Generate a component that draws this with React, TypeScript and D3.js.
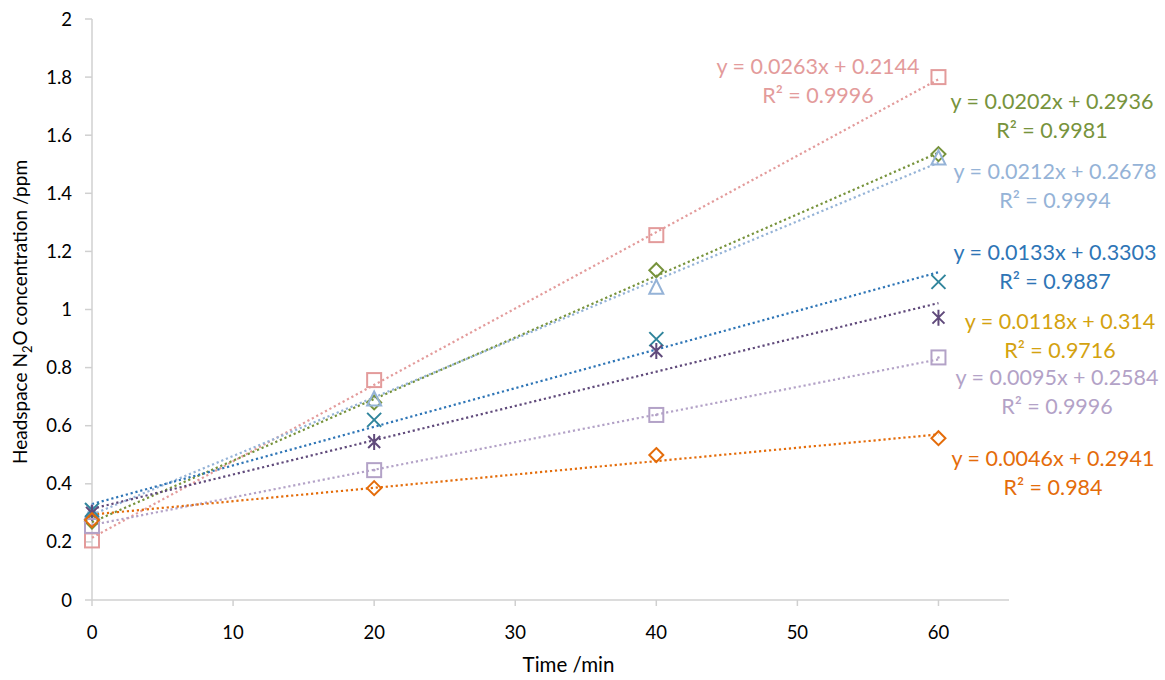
import React, { useEffect } from "react"
import * as d3 from "d3"

// sampling times (min)
const times = [0, 20, 40, 60]

// measured headspace N2O (ppm), one array per treatment
const pinkSquare = [0.205, 0.757, 1.256, 1.8]
const greenDiamond = [0.27, 0.68, 1.135, 1.535]
const blueTriangle = [0.3, 0.69, 1.075, 1.52]
const tealCross = [0.31, 0.62, 0.898, 1.095]
const purpleStar = [0.3, 0.544, 0.857, 0.972]
const lilacSquare = [0.255, 0.447, 0.637, 0.835]
const orangeDiamond = [0.275, 0.385, 0.499, 0.557]

// linear trendlines as printed on the chart
const slopes = [0.0263, 0.0202, 0.0212, 0.0133, 0.0118, 0.0095, 0.0046]
const intercepts = [0.2144, 0.2936, 0.2678, 0.3303, 0.314, 0.2584, 0.2941]
const eqLabels = [
  "y = 0.0263x + 0.2144",
  "y = 0.0202x + 0.2936",
  "y = 0.0212x + 0.2678",
  "y = 0.0133x + 0.3303",
  "y = 0.0118x + 0.314",
  "y = 0.0095x + 0.2584",
  "y = 0.0046x + 0.2941",
]
const r2Labels = ["0.9996", "0.9981", "0.9994", "0.9887", "0.9716", "0.9996", "0.984"]
// which printed fit belongs to which series (the green / blue labels are swapped on the original)
const fitOfSeries = [0, 2, 1, 3, 4, 5, 6]

const xTicks = [0, 10, 20, 30, 40, 50, 60]
const yTicks = [0, 0.2, 0.4, 0.6, 0.8, 1, 1.2, 1.4, 1.6, 1.8, 2]

const seriesValues = [pinkSquare, greenDiamond, blueTriangle, tealCross, purpleStar, lilacSquare, orangeDiamond]
const markerKinds = ["square", "diamond", "triangle", "cross", "star", "dotsquare", "diamond"]
const markerColors = ["#E39B9B", "#77933C", "#95B3D7", "#31859C", "#604A7B", "#B3A2C7", "#E46C0A"]
const lineColors = ["#E39B9B", "#77933C", "#95B3D7", "#2E75B6", "#604A7B", "#B3A2C7", "#E46C0A"]
const labelColors = ["#E39B9B", "#77933C", "#95B3D7", "#2E75B6", "#D4A20F", "#B3A2C7", "#E46C0A"]
// label centre (px) for each equation block
const labelAt = [
  [818, 66],
  [1052, 101],
  [1055, 171],
  [1055, 252],
  [1060, 321],
  [1057, 377],
  [1053, 458],
]

const W = 1165
const H = 680
const font = "Lato, 'Open Sans', sans-serif"

function Marker({ kind, x, y, color }) {
  const s = 7
  const common = { fill: "none", stroke: color, strokeWidth: 2 }
  if (kind === "square")
    return <rect x={x - s} y={y - s} width={2 * s} height={2 * s} {...common} />
  if (kind === "dotsquare")
    return (
      <g>
        <rect x={x - s} y={y - s} width={2 * s} height={2 * s} {...common} />
        <circle cx={x} cy={y} r={1.3} fill={color} />
      </g>
    )
  if (kind === "diamond")
    return <path d={`M${x},${y - s}L${x + s},${y}L${x},${y + s}L${x - s},${y}Z`} {...common} />
  if (kind === "triangle")
    return <path d={`M${x},${y - s - 1}L${x + s},${y + s - 1}L${x - s},${y + s - 1}Z`} {...common} />
  if (kind === "cross")
    return (
      <path d={`M${x - s},${y - s}L${x + s},${y + s}M${x - s},${y + s}L${x + s},${y - s}`} {...common} />
    )
  return (
    <path
      d={`M${x - 6},${y - 6}L${x + 6},${y + 6}M${x - 6},${y + 6}L${x + 6},${y - 6}M${x},${y - 8}L${x},${y + 8}`}
      {...common}
    />
  )
}

export default function App() {
  useEffect(() => {
    document.body.style.margin = "0"
  }, [])

  const x = d3.scaleLinear().domain([0, 65]).range([92, 1009])
  const y = d3.scaleLinear().domain([0, 2]).range([600, 19])
  const axisColor = "#D0D0D0"
  const tStart = times[0]
  const tEnd = times[times.length - 1]

  return (
    <svg width={W} height={H} style={{ display: "block", background: "#fff" }} fontFamily={font}>
      {/* axes */}
      <line x1={x(0)} x2={x(65)} y1={y(0)} y2={y(0)} stroke={axisColor} strokeWidth={1.5} />
      <line x1={x(0)} x2={x(0)} y1={y(0)} y2={y(2)} stroke={axisColor} strokeWidth={1.5} />
      {xTicks.map(t => (
        <g key={"xt" + t}>
          <line x1={x(t)} x2={x(t)} y1={y(0)} y2={y(0) + 6} stroke={axisColor} strokeWidth={1.5} />
          <text x={x(t)} y={y(0) + 39} textAnchor="middle" fontSize={18.5} fill="#000">
            {t}
          </text>
        </g>
      ))}
      {yTicks.map(t => (
        <g key={"yt" + t}>
          <line x1={x(0) - 7} x2={x(0)} y1={y(t)} y2={y(t)} stroke={axisColor} strokeWidth={1.5} />
          <text x={x(0) - 20} y={y(t) + 6.5} textAnchor="end" fontSize={18.5} fill="#000">
            {d3.format("~g")(t)}
          </text>
        </g>
      ))}

      {/* trendlines */}
      {seriesValues.map((_, i) => {
        const f = fitOfSeries[i]
        return (
          <line
            key={"tl" + i}
            x1={x(tStart)}
            y1={y(intercepts[f] + slopes[f] * tStart)}
            x2={x(tEnd)}
            y2={y(intercepts[f] + slopes[f] * tEnd)}
            stroke={lineColors[i]}
            strokeWidth={2.2}
            strokeDasharray="2.2 2.8"
          />
        )
      })}

      {/* markers */}
      {seriesValues.map((vals, i) =>
        vals.map((v, j) => (
          <Marker key={`m${i}-${j}`} kind={markerKinds[i]} x={x(times[j])} y={y(v)} color={markerColors[i]} />
        ))
      )}

      {/* equation labels */}
      {eqLabels.map((eq, i) => (
        <g key={"lb" + i} fill={labelColors[i]} fontSize={21.5} textAnchor="middle">
          <text x={labelAt[i][0]} y={labelAt[i][1] + 7.5}>
            {eq}
          </text>
          <text x={labelAt[i][0]} y={labelAt[i][1] + 37}>
            {"R² = " + r2Labels[i]}
          </text>
        </g>
      ))}

      {/* axis titles */}
      <text x={(x(0) + x(65)) / 2 + 18} y={672} textAnchor="middle" fontSize={20.5} fill="#000">
        Time /min
      </text>
      <text transform="translate(27,312) rotate(-90)" textAnchor="middle" fontSize={19} fill="#000">
        Headspace N
        <tspan fontSize={13} dy={5}>
          2
        </tspan>
        <tspan dy={-5}>O concentration /ppm</tspan>
      </text>
    </svg>
  )
}
